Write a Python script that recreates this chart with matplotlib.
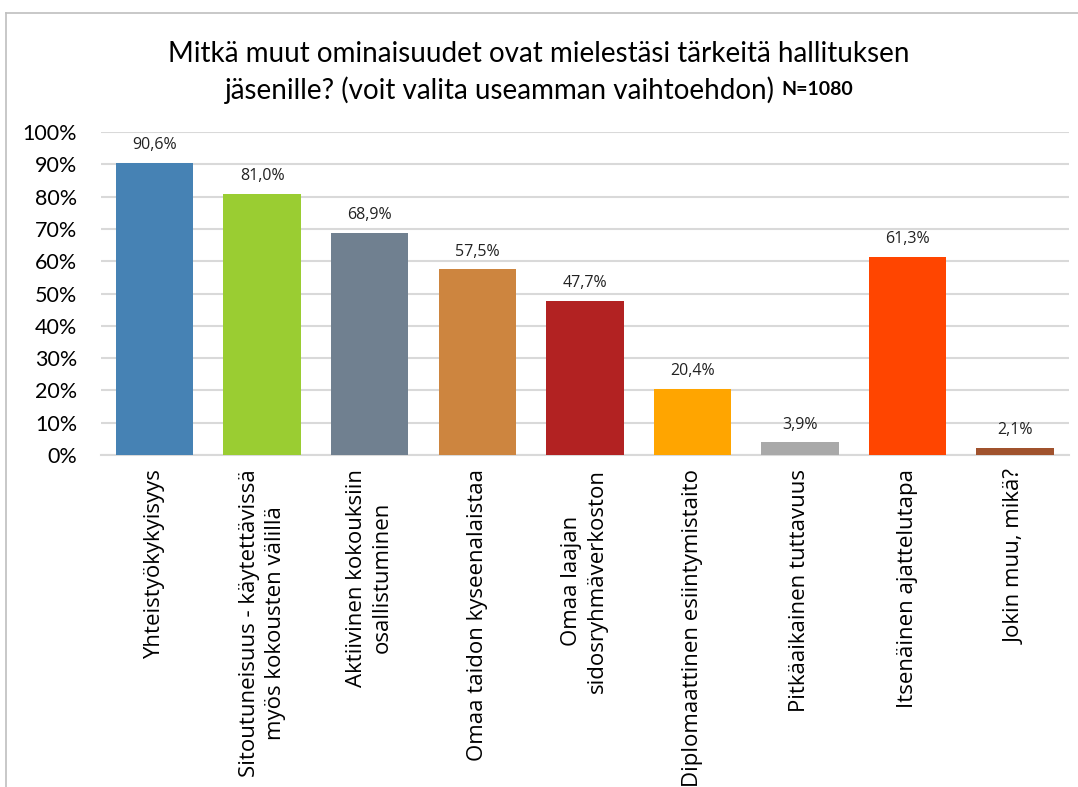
import matplotlib
matplotlib.use("Agg")
import matplotlib.pyplot as plt
from matplotlib.lines import Line2D

# Data
categories = [
    "Yhteistyökykyisyys",
    "Sitoutuneisuus - käytettävissä\nmyös kokousten välillä",
    "Aktiivinen kokouksiin\nosallistuminen",
    "Omaa taidon kyseenalaistaa",
    "Omaa laajan\nsidosryhmäverkoston",
    "Diplomaattinen esiintymistaito",
    "Pitkäaikainen tuttavuus",
    "Itsenäinen ajattelutapa",
    "Jokin muu, mikä?",
]
values = [90.6, 81.0, 68.9, 57.5, 47.7, 20.4, 3.9, 61.3, 2.1]
colors = ["#4682B4", "#9ACD32", "#708090", "#CD853F", "#B22222",
          "#FFA500", "#A9A9A9", "#FF4500", "#A0522D"]
yticks = list(range(0, 101, 10))

plt.rcParams["font.family"] = ["Open Sans", "DejaVu Sans"]

fig = plt.figure(figsize=(10.78, 7.87), dpi=100)
ax = fig.add_axes([0.0935, 0.422, 0.898, 0.41])

x = range(len(categories))
ax.bar(x, values, width=0.72, color=colors, zorder=3)

for i, v in enumerate(values):
    ax.annotate(f"{v:.1f}%".replace(".", ","), (i, v), xytext=(0, 7),
                textcoords="offset points", ha="center", va="bottom",
                fontsize=11.5, color="#222222")

ax.set_xlim(-0.5, len(categories) - 0.5)
ax.set_ylim(0, 100)
ax.set_yticks(yticks)
ax.set_yticklabels([f"{t}%" for t in yticks], fontsize=15.5, family="Lato")
ax.set_xticks(list(x))
ax.set_xticklabels(categories, rotation=90, fontsize=16,
                   multialignment="center", linespacing=1.3)
ax.tick_params(length=0, pad=10)
ax.tick_params(axis="y", pad=17)
ax.yaxis.grid(True, color="#d9d9d9", linewidth=1.5, zorder=0)
for s in ["top", "right", "left"]:
    ax.spines[s].set_visible(False)
ax.spines["bottom"].set_color("#d9d9d9")
ax.spines["bottom"].set_linewidth(1.5)

# Title
fig.text(0.5, 0.932, "Mitkä muut ominaisuudet ovat mielestäsi tärkeitä hallituksen",
         ha="center", va="center", fontsize=20, family="Lato")

# second title line: normal part + bold N, centred together
fig.canvas.draw()
r = fig.canvas.get_renderer()
part1 = "jäsenille? (voit valita useamman vaihtoehdon) "
part2 = "N=1080"
ta = fig.text(0, 0.886, part1, ha="left", va="center", fontsize=20, family="Lato")
tb = fig.text(0, 0.886, part2, ha="left", va="center", fontsize=14,
              family="Lato", fontweight="bold")
wa = ta.get_window_extent(r).width / fig.bbox.width
wb = tb.get_window_extent(r).width / fig.bbox.width
x0 = 0.5 - (wa + wb) / 2
ta.set_x(x0)
tb.set_x(x0 + wa)

# Chart border
fig.add_artist(Line2D([0.006, 1.0], [0.983, 0.983], color="#bfbfbf",
                      linewidth=1.2, transform=fig.transFigure))
fig.add_artist(Line2D([0.006, 0.006], [0.0, 0.983], color="#bfbfbf",
                      linewidth=1.2, transform=fig.transFigure))

fig.savefig("out.png", dpi=100)
